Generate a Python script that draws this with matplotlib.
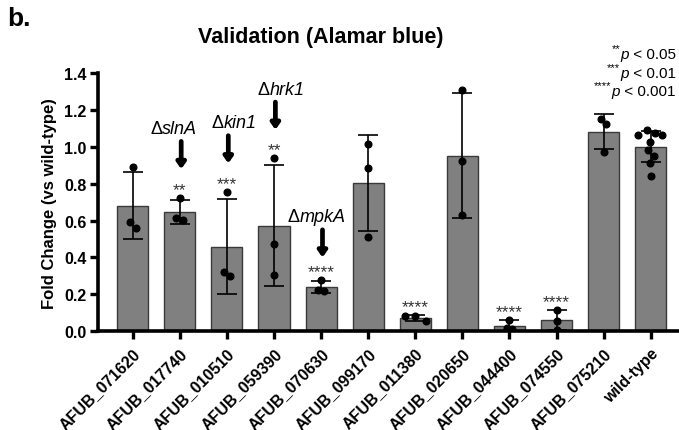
import numpy as np
import matplotlib.pyplot as plt

plt.rcParams['font.family'] = ['Liberation Sans', 'DejaVu Sans']

strains = ['AFUB_071620', 'AFUB_017740', 'AFUB_010510', 'AFUB_059390',
           'AFUB_070630', 'AFUB_099170', 'AFUB_011380', 'AFUB_020650',
           'AFUB_044400', 'AFUB_074550', 'AFUB_075210', 'wild-type']
reps = [
    [0.888, 0.590, 0.560],
    [0.724, 0.616, 0.603],
    [0.755, 0.320, 0.301],
    [0.937, 0.473, 0.305],
    [0.280, 0.225, 0.217],
    [1.015, 0.883, 0.511],
    [0.085, 0.083, 0.056],
    [1.307, 0.921, 0.628],
    [0.063, 0.016, 0.012],
    [0.115, 0.056, 0.009],
    [1.148, 1.125, 0.973],
    [1.063, 1.090, 1.074, 1.065, 1.027, 0.982, 0.948, 0.910, 0.843],
]
signif = ['', '**', '***', '**', '****', '', '****', '', '****', '****', '', '']
mutants = {1: 'slnA', 2: 'kin1', 3: 'hrk1', 4: 'mpkA'}
legend_lines = [('**', '0.05'), ('***', '0.01'), ('****', '0.001')]

# horizontal spread of the dots (bar units)
jit = [
    [0, -0.06, 0.07], [0, -0.07, 0.07], [0, -0.06, 0.06], [0, 0, 0],
    [0, -0.06, 0.07], [0, 0, 0], [-0.22, 0, 0.22], [0, 0, 0],
    [0, -0.06, 0.06], [0, 0, 0], [-0.06, 0.04, 0],
    [-0.27, -0.09, 0.085, 0.24, -0.02, -0.06, 0.06, -0.02, 0],
]
# nudges for the mutant labels (x in bar units, y in data units)
lab_dx = {1: -0.13, 2: 0.15, 3: 0.15, 4: -0.09}
lab_dy = {1: 0.0, 2: 0.0, 3: 0.0, 4: -0.035}

means = [np.mean(r) for r in reps]
sds = [np.std(r, ddof=1) for r in reps]
x = np.arange(len(strains))

fig = plt.figure(figsize=(6.79, 4.31), dpi=100)
ax = fig.add_axes([0.1443, 0.229, 0.8557, 0.5995])

ax.bar(x, means, width=0.66, color='#808080', edgecolor='#3a3a3a', linewidth=1.0, zorder=2)
ax.errorbar(x, means, yerr=sds, fmt='none', ecolor='black', elinewidth=1.2,
            capsize=7.5, capthick=1.2, zorder=3)
for i, r in enumerate(reps):
    ax.plot(x[i] + np.array(jit[i]), r, 'o', color='black', ms=4.8, zorder=4)

tops = [max(max(r), m + s) for r, m, s in zip(reps, means, sds)]
for i, s in enumerate(signif):
    if s:
        ax.text(x[i], tops[i] + 0.045, s, ha='center', va='center', fontsize=12.5,
                color='#333333', zorder=5)

for i, name in mutants.items():
    dy = lab_dy[i]
    ax.annotate('', xy=(x[i] + 0.03, tops[i] + 0.155 + dy), xytext=(x[i] + 0.03, tops[i] + 0.305 + dy),
                arrowprops=dict(arrowstyle='-|>,head_width=0.25,head_length=0.35',
                                lw=3.4, color='black', shrinkA=0, shrinkB=0))
    g = ax.text(x[i] + lab_dx[i] + 0.13, tops[i] + 0.375 + dy, name, ha='center',
                va='center', fontsize=13, style='italic')
    ax.annotate('Δ', xy=(0, 0), xycoords=g, ha='right', va='bottom', fontsize=13)

ax.set_xlim(-0.737, 11.6)
ax.set_ylim(0, 1.4)
ax.set_yticks(np.arange(0, 1.41, 0.2))
ax.set_yticklabels(['%.1f' % v for v in np.arange(0, 1.41, 0.2)], fontweight='bold', fontsize=11.5)
ax.set_xticks(x)
ax.set_xticklabels(strains, rotation=45, ha='right', va='top', rotation_mode='anchor',
                   fontweight='bold', fontsize=11.5)
ax.tick_params(axis='both', width=2.4, length=6, pad=2)
ax.tick_params(axis='x', pad=4)
for side in ['top', 'right']:
    ax.spines[side].set_visible(False)
for side in ['left', 'bottom']:
    ax.spines[side].set_linewidth(2.6)
ax.set_ylabel('Fold Change (vs wild-type)', fontweight='bold', fontsize=12, labelpad=5)

fig.text(0.473, 0.912, 'Validation (Alamar blue)', ha='center', va='center',
         fontweight='bold', fontsize=15.5)
fig.text(0.010, 0.957, 'b.', ha='left', va='center', fontweight='bold', fontsize=19)

for k, (stars, p) in enumerate(legend_lines):
    t = fig.text(0.995, 0.872 - k * 0.043, ' < ' + p, ha='right', va='center', fontsize=11)
    tp = ax.annotate('p', xy=(0, 0), xycoords=t, ha='right', va='bottom',
                     fontsize=11, style='italic')
    ax.annotate(stars, xy=(0, 0.55), xycoords=tp, ha='right', va='bottom', fontsize=8)

fig.savefig('out.png', dpi=100)
